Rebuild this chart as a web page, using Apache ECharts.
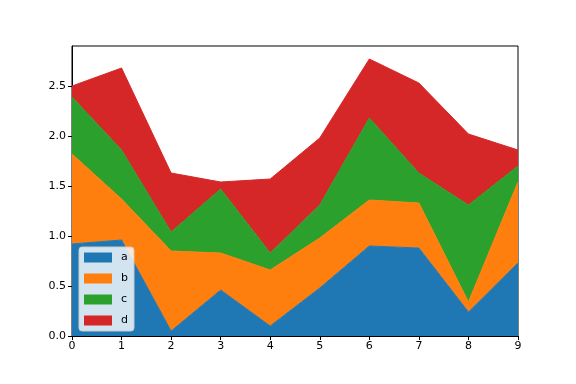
<!DOCTYPE html>
<html><head><meta charset="utf-8">
<script src="https://cdn.jsdelivr.net/npm/echarts@6/dist/echarts.min.js"></script>
<style>html,body{margin:0;padding:0;background:#fff}#c{width:576px;height:384px}</style>
</head><body><div id="c"></div>
<script>
const categories = ['0','1','2','3','4','5','6','7','8','9'];
const seriesA = [0.92,0.96,0.05,0.46,0.10,0.48,0.90,0.88,0.24,0.73];
const seriesB = [0.90,0.41,0.80,0.37,0.56,0.50,0.46,0.45,0.10,0.81];
const seriesC = [0.57,0.49,0.19,0.64,0.17,0.33,0.82,0.30,0.97,0.16];
const seriesD = [0.11,0.82,0.59,0.07,0.74,0.67,0.59,0.90,0.71,0.16];
const yTicks = [0,0.5,1.0,1.5,2.0,2.5];
const names = ['a','b','c','d'];
const colors = ['#1f77b4','#ff7f0e','#2ca02c','#d62728'];
const all = [seriesA,seriesB,seriesC,seriesD];
const font = 'DejaVu Sans';
const chart = echarts.init(document.getElementById('c'));
chart.setOption({
  animation:false,
  grid:{left:72,right:58,top:46,bottom:48,show:true,borderColor:'#000',borderWidth:1,backgroundColor:'transparent'},
  legend:{
    orient:'vertical',left:79,top:247,
    data:names.map(n=>({name:n,icon:'rect'})),
    itemWidth:28,itemHeight:10,itemGap:10,
    padding:[5,6,5,5],
    backgroundColor:'rgba(255,255,255,0.8)',borderColor:'#cccccc',borderWidth:1,borderRadius:3,
    textStyle:{fontFamily:font,fontSize:11,color:'#000',padding:[0,0,0,4]}
  },
  xAxis:{type:'category',data:categories,boundaryGap:false,
    axisLine:{show:true,lineStyle:{color:'#000',width:1}},
    axisTick:{show:true,inside:false,length:4,lineStyle:{color:'#000'}},
    axisLabel:{fontFamily:font,fontSize:11,color:'#000',margin:5},
    splitLine:{show:false}},
  yAxis:{type:'value',min:0,max:2.9,interval:0.5,
    axisLine:{show:true,lineStyle:{color:'#000',width:1}},
    axisTick:{show:true,inside:false,length:4,lineStyle:{color:'#000'},customValues:yTicks},
    axisLabel:{fontFamily:font,fontSize:11,color:'#000',margin:6,customValues:yTicks,formatter:v=>v.toFixed(1)},
    splitLine:{show:false}},
  series:names.map((n,i)=>({
    name:n,type:'line',stack:'total',data:all[i],symbol:'none',
    itemStyle:{color:colors[i]},
    lineStyle:{color:colors[i],width:1},
    areaStyle:{color:colors[i],opacity:1}
  }))
});
</script></body></html>
